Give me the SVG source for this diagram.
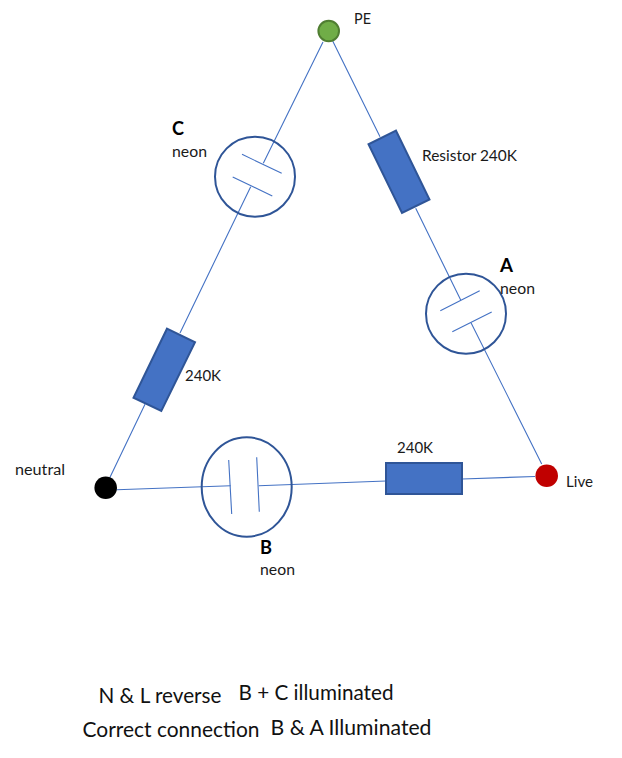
<svg xmlns="http://www.w3.org/2000/svg" width="622" height="758" viewBox="0 0 622 758">
<style>
text{font-family:Lato,"Open Sans","Liberation Sans",sans-serif;font-size:14.6px;fill:#1a1a1a}
.b{font-weight:700;font-size:18.5px;fill:#000}
.big{font-size:20.5px;fill:#111}
.w{fill:none;stroke:#4472c4;stroke-width:1.1}
.neon{fill:none;stroke:#2f5597;stroke-width:2}
.res{fill:#4472c4;stroke:#2f5597;stroke-width:2}
</style>
<rect width="622" height="758" fill="#fff"/>
<g id="connectors">
<path class="w" d="M323 42L263.3 163.3M250.7 186.7L180 333M145 404.3L110 477.3"/>
<path class="w" d="M332.7 41L380 136.7M415.7 208.3L460.7 300M471 322.7L541.7 464"/>
<path class="w" d="M116.7 489.7L230.7 485.7M258.7 485.7L386 481M462 479L535 476.5"/>
</g>
<g id="node-pe"><circle cx="328.7" cy="31" r="10.3" fill="#70ad47" stroke="#507e32" stroke-width="2"/><text x="354" y="23.5" textLength="17" lengthAdjust="spacingAndGlyphs">PE</text></g>
<g id="node-neutral"><circle cx="105.7" cy="487.7" r="11.3" fill="#000"/><text x="15" y="474.5" textLength="50" lengthAdjust="spacingAndGlyphs">neutral</text></g>
<g id="node-live"><circle cx="546.7" cy="475.7" r="11.3" fill="#c00000"/><text x="566" y="487" textLength="27" lengthAdjust="spacingAndGlyphs">Live</text></g>
<g id="neon-c">
<circle class="neon" cx="255" cy="176.7" r="40"/>
<path class="w" d="M242 154.3L281.7 173.3M232.7 177L272.3 196"/>
<text class="b" x="172" y="134.5" textLength="12" lengthAdjust="spacingAndGlyphs">C</text>
<text x="172" y="156.5" textLength="35" lengthAdjust="spacingAndGlyphs">neon</text>
</g>
<g id="neon-a">
<circle class="neon" cx="466" cy="313.7" r="40"/>
<path class="w" d="M440.3 310.7L479.7 290.7M452.3 331.7L491.7 312"/>
<text class="b" x="500" y="271.5" textLength="13" lengthAdjust="spacingAndGlyphs">A</text>
<text x="500" y="293.5" textLength="35" lengthAdjust="spacingAndGlyphs">neon</text>
</g>
<g id="neon-b">
<ellipse class="neon" cx="246.7" cy="487" rx="45" ry="49.7"/>
<path class="w" d="M228.7 460L231.7 514M256.7 457.3L259.3 511.7"/>
<text class="b" x="260" y="553.5" textLength="12" lengthAdjust="spacingAndGlyphs">B</text>
<text x="260" y="574.5" textLength="35" lengthAdjust="spacingAndGlyphs">neon</text>
</g>
<g id="resistor-right"><polygon class="res" points="396,130.7 429.5,199.5 402,213 368.5,144.3"/><text x="422" y="160.5" textLength="95" lengthAdjust="spacingAndGlyphs">Resistor 240K</text></g>
<g id="resistor-left"><polygon class="res" points="167,328.7 195,342.3 161.3,411 133.5,397.7"/><text x="185" y="380.5" textLength="36" lengthAdjust="spacingAndGlyphs">240K</text></g>
<g id="resistor-bottom"><rect class="res" x="386" y="463" width="76" height="31"/><text x="397" y="452.5" textLength="36" lengthAdjust="spacingAndGlyphs">240K</text></g>
<g id="notes">
<text class="big" x="98.5" y="703" textLength="123" lengthAdjust="spacingAndGlyphs">N &amp; L reverse</text>
<text class="big" x="238.5" y="700" textLength="155" lengthAdjust="spacingAndGlyphs">B + C illuminated</text>
<text class="big" x="82.5" y="737" textLength="177" lengthAdjust="spacingAndGlyphs">Correct connection</text>
<text class="big" x="270.5" y="735" textLength="161" lengthAdjust="spacingAndGlyphs">B &amp; A Illuminated</text>
</g>
</svg>
